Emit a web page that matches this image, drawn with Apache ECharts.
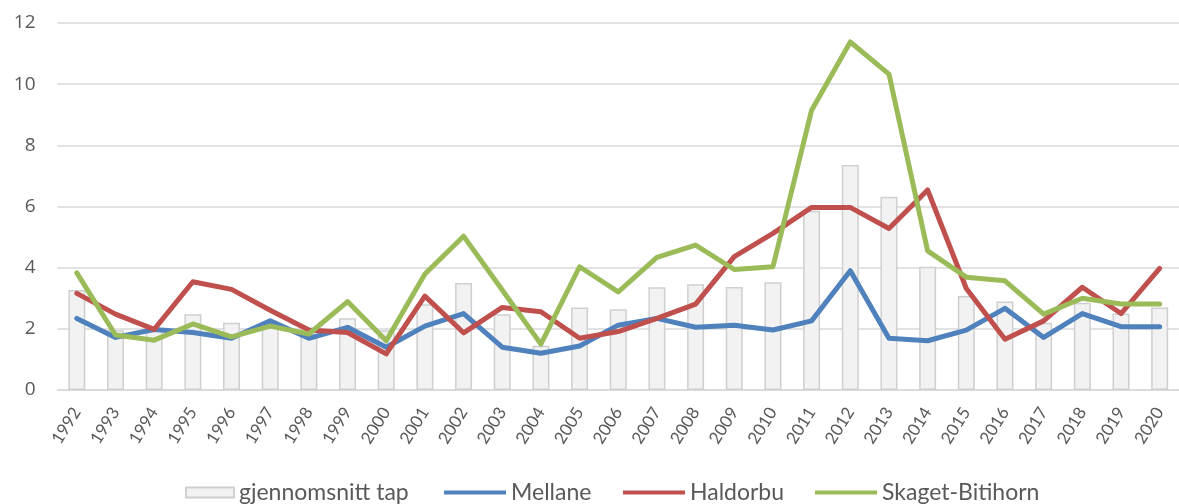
<!DOCTYPE html>
<html>
<head>
<meta charset="utf-8">
<script src="https://cdn.jsdelivr.net/npm/echarts@6/dist/echarts.min.js"></script>
<style>
html,body{margin:0;padding:0;background:#fff;}
#chart{width:1179px;height:504px;}
</style>
</head>
<body>
<div id="chart"></div>
<script>
var years = ['1992','1993','1994','1995','1996','1997','1998','1999','2000','2001','2002','2003','2004','2005','2006','2007','2008','2009','2010','2011','2012','2013','2014','2015','2016','2017','2018','2019','2020'];
var gjennomsnittTap = [3.27,1.95,2.0,2.48,2.2,2.05,1.85,2.35,1.95,2.8,3.5,2.48,1.45,2.7,2.64,3.36,3.46,3.37,3.52,5.86,7.36,6.32,4.03,3.07,2.89,2.2,2.85,2.5,2.7];
var mellane = [2.34,1.72,1.98,1.88,1.69,2.26,1.69,2.05,1.4,2.09,2.5,1.4,1.2,1.44,2.12,2.34,2.05,2.12,1.96,2.26,3.9,1.69,1.61,1.96,2.67,1.72,2.5,2.07,2.07];
var haldorbu = [3.16,2.48,1.98,3.54,3.29,2.61,1.96,1.88,1.18,3.07,1.87,2.7,2.56,1.69,1.91,2.34,2.81,4.36,5.12,5.97,5.97,5.28,6.54,3.32,1.66,2.26,3.36,2.5,3.98];
var skagetBitihorn = [3.83,1.8,1.63,2.16,1.74,2.09,1.83,2.89,1.61,3.79,5.03,3.27,1.5,4.03,3.21,4.34,4.74,3.94,4.03,9.15,11.38,10.33,4.55,3.69,3.57,2.48,3.0,2.81,2.81];
var yTicks = {min:0, max:12, interval:2};

var chart = echarts.init(document.getElementById('chart'));
var lineIcon = 'path://M0,3H62V7H0ZM0,0M62,10';
var barIcon = 'path://M14,0H62V10H14ZM0,0';
var legendText = {fontFamily:'Lato', fontSize:23, color:'#595959'};
function mkLegend(name, left, icon){
  return {data:[{name:name, icon:icon}], left:left, top:481, padding:0, itemWidth:62, itemHeight:10, itemGap:0, textStyle:legendText, selectedMode:false};
}
function lineSeries(name, data, color){
  return {name:name, type:'line', data:data, symbol:'none', showSymbol:false,
    lineStyle:{color:color, width:5, cap:'round', join:'round'}, itemStyle:{color:color}, z:3};
}
chart.setOption({
  animation:false,
  backgroundColor:'#ffffff',
  grid:{left:57.5, right:-12.5, top:23, bottom:114, containLabel:false},
  legend:[
    mkLegend('gjennomsnitt tap', 171, barIcon),
    mkLegend('Mellane', 444, lineIcon),
    mkLegend('Haldorbu', 623, lineIcon),
    mkLegend('Skaget-Bitihorn', 815, lineIcon)
  ],
  xAxis:{type:'category', data:years, boundaryGap:true,
    axisLine:{lineStyle:{color:'#d9d9d9', width:1.5}},
    axisTick:{show:false},
    axisLabel:{rotate:58, margin:19, interval:0, fontFamily:'Lato', fontSize:17, color:'#595959'}},
  yAxis:{type:'value', min:yTicks.min, max:yTicks.max, interval:yTicks.interval,
    axisLine:{show:false}, axisTick:{show:false},
    splitLine:{lineStyle:{color:'#d9d9d9', width:1.5}},
    axisLabel:{margin:22, fontFamily:'Open Sans', fontSize:19, color:'#595959'}},
  series:[
    {name:'gjennomsnitt tap', type:'bar', data:gjennomsnittTap, barWidth:17,
      itemStyle:{color:'#f2f2f2', borderColor:'#cfcfcf', borderWidth:1.5}, z:2},
    lineSeries('Mellane', mellane, '#4f81bd'),
    lineSeries('Haldorbu', haldorbu, '#c0504d'),
    lineSeries('Skaget-Bitihorn', skagetBitihorn, '#9bbb59')
  ]
});
</script>
</body>
</html>
